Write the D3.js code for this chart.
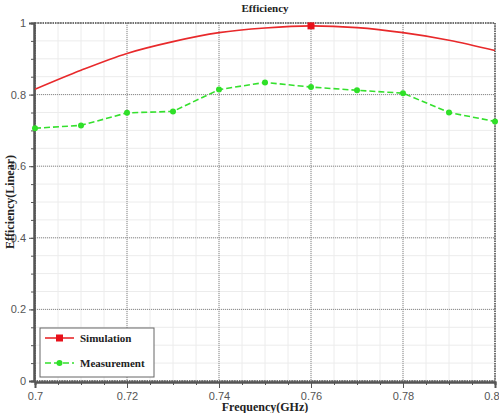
<!DOCTYPE html>
<html>
<head>
<meta charset="utf-8">
<script src="https://cdn.jsdelivr.net/npm/d3@7"></script>
<style>
  body { margin: 0; background: #fff; }
  svg { display: block; }
</style>
</head>
<body>
<div id="chart"></div>
<script>
// Data
const freq = [0.70, 0.71, 0.72, 0.73, 0.74, 0.75, 0.76, 0.77, 0.78, 0.79, 0.80];
const simulation = [0.815, 0.868, 0.915, 0.948, 0.973, 0.986, 0.992, 0.987, 0.973, 0.952, 0.923];
const measurement = [0.706, 0.714, 0.749, 0.753, 0.814, 0.834, 0.821, 0.812, 0.804, 0.750, 0.725];
const xTicks = [0.70, 0.72, 0.74, 0.76, 0.78, 0.80];
const yTicks = [0, 0.2, 0.4, 0.6, 0.8, 1];
const seriesNames = ['Simulation', 'Measurement'];

const W = 499, H = 413;
const margin = { top: 23, right: 4, bottom: 32, left: 35 };
const width = W - margin.left - margin.right;
const height = H - margin.top - margin.bottom;

const svg = d3.select('#chart').append('svg')
    .attr('width', W).attr('height', H);

const g = svg.append('g')
    .attr('transform', `translate(${margin.left},${margin.top})`);

const x = d3.scaleLinear().domain([0.7, 0.8]).range([0, width]);
const y = d3.scaleLinear().domain([0, 1]).range([height, 0]);

// minor grid
const xMinor = d3.range(0, 21).map(i => 0.7 + i * 0.005);
const yMinor = d3.range(0, 21).map(i => i * 0.05);
g.append('g').selectAll('line').data(xMinor).join('line')
    .attr('x1', d => x(d)).attr('x2', d => x(d))
    .attr('y1', 0).attr('y2', height)
    .attr('stroke', '#ececec').attr('stroke-width', 1);
g.append('g').selectAll('line').data(yMinor).join('line')
    .attr('x1', 0).attr('x2', width)
    .attr('y1', d => y(d)).attr('y2', d => y(d))
    .attr('stroke', '#ececec').attr('stroke-width', 1);

// major grid (dotted)
g.append('g').selectAll('line').data(xTicks).join('line')
    .attr('x1', d => x(d)).attr('x2', d => x(d))
    .attr('y1', 0).attr('y2', height)
    .attr('stroke', '#888').attr('stroke-dasharray', '1,1');
g.append('g').selectAll('line').data(yTicks).join('line')
    .attr('x1', 0).attr('x2', width)
    .attr('y1', d => y(d)).attr('y2', d => y(d))
    .attr('stroke', '#888').attr('stroke-dasharray', '1,1');

// frame
g.append('rect')
    .attr('width', width).attr('height', height)
    .attr('fill', 'none').attr('stroke', '#555')
    .attr('stroke-width', 1.5).attr('stroke-dasharray', '1.5,1');

// axes
const xAxis = g.append('g')
    .attr('transform', `translate(0,${height + 1})`)
    .call(d3.axisBottom(x).tickValues(xTicks).tickFormat(d3.format('~g')).tickSize(6).tickPadding(4));
const xAxisMinor = g.append('g')
    .attr('transform', `translate(0,${height + 1})`)
    .call(d3.axisBottom(x).tickValues(xMinor).tickFormat('').tickSize(3));
const yAxis = g.append('g')
    .attr('transform', 'translate(-1,0)')
    .call(d3.axisLeft(y).tickValues(yTicks).tickFormat(d3.format('~g')).tickSize(5).tickPadding(3));
const yAxisMinor = g.append('g')
    .attr('transform', 'translate(-1,0)')
    .call(d3.axisLeft(y).tickValues(yMinor).tickFormat('').tickSize(3));

[xAxis, xAxisMinor, yAxis, yAxisMinor].forEach(a => {
    a.select('.domain').attr('stroke', '#555').attr('stroke-width', 2);
    a.selectAll('.tick line').attr('stroke', '#555');
    a.selectAll('text')
        .style('font-family', '"Liberation Sans", Arial, sans-serif')
        .style('font-size', '11px')
        .attr('fill', '#555');
});
// keep the last x label inside the window
xAxis.selectAll('.tick text')
    .filter(d => d === xTicks[xTicks.length - 1])
    .attr('text-anchor', 'end')
    .attr('x', margin.right);

// lines
const simLine = d3.line()
    .x((d, i) => x(freq[i]))
    .y(d => y(d))
    .curve(d3.curveMonotoneX);
g.append('path').datum(simulation)
    .attr('fill', 'none').attr('stroke', '#e8292b').attr('stroke-width', 1.6)
    .attr('d', simLine);

const peak = d3.maxIndex(simulation);
g.append('rect')
    .attr('x', x(freq[peak]) - 3.5).attr('y', y(simulation[peak]) - 3.5)
    .attr('width', 7).attr('height', 7).attr('fill', '#e8101a');

const measLine = d3.line()
    .x((d, i) => x(freq[i]))
    .y(d => y(d));
g.append('path').datum(measurement)
    .attr('fill', 'none').attr('stroke', '#35e02e').attr('stroke-width', 1.6)
    .attr('stroke-dasharray', '6,3')
    .attr('d', measLine);
g.selectAll('.dot').data(measurement).join('circle')
    .attr('cx', (d, i) => x(freq[i])).attr('cy', d => y(d))
    .attr('r', 3).attr('fill', '#2fe028');

// title and axis labels
const serif = '"Liberation Serif", "Times New Roman", serif';
svg.append('text')
    .attr('x', margin.left + width / 2).attr('y', 12)
    .attr('text-anchor', 'middle')
    .style('font-family', serif).style('font-weight', 'bold').style('font-size', '11px')
    .attr('fill', '#222')
    .text('Efficiency');
svg.append('text')
    .attr('x', margin.left + width / 2).attr('y', 411)
    .attr('text-anchor', 'middle')
    .style('font-family', serif).style('font-weight', 'bold').style('font-size', '12px')
    .attr('fill', '#222')
    .text('Frequency(GHz)');
svg.append('text')
    .attr('transform', `translate(14,${margin.top + height / 2}) rotate(-90)`)
    .attr('text-anchor', 'middle')
    .style('font-family', serif).style('font-weight', 'bold').style('font-size', '12px')
    .attr('fill', '#222')
    .text('Efficiency(Linear)');

// legend
const legend = svg.append('g').attr('transform', 'translate(40,328)');
legend.append('rect')
    .attr('width', 114).attr('height', 49)
    .attr('fill', '#fff').attr('stroke', '#666').attr('stroke-width', 1);
const colors = ['#e8292b', '#35e02e'];
seriesNames.forEach((name, i) => {
    const ly = 10 + i * 25;
    const row = legend.append('g').attr('transform', `translate(0,${ly})`);
    row.append('line')
        .attr('x1', 5).attr('x2', 34).attr('y1', 0).attr('y2', 0)
        .attr('stroke', colors[i]).attr('stroke-width', 1.6)
        .attr('stroke-dasharray', i === 1 ? '6,3' : null);
    if (i === 0) {
        row.append('rect').attr('x', 16).attr('y', -3.5).attr('width', 7).attr('height', 7)
            .attr('fill', '#e8101a');
    } else {
        row.append('circle').attr('cx', 19.5).attr('cy', 0).attr('r', 3).attr('fill', '#2fe028');
    }
    row.append('text')
        .attr('x', 40).attr('y', 4)
        .style('font-family', serif).style('font-weight', 'bold').style('font-size', '11px')
        .attr('fill', '#222')
        .text(name);
});
</script>
</body>
</html>
